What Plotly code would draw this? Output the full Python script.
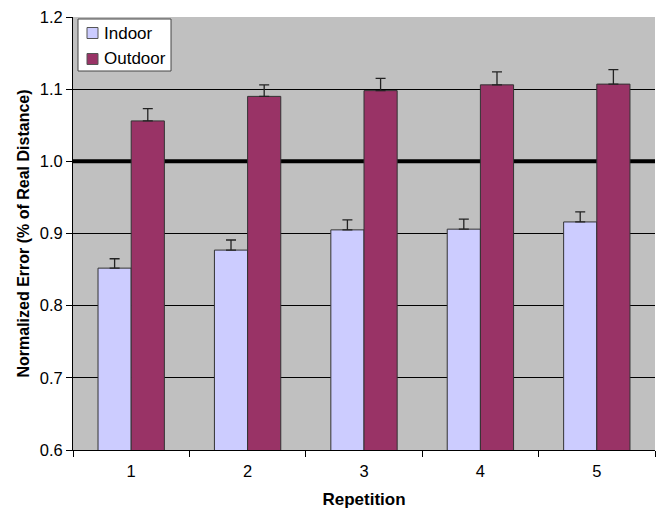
import plotly.graph_objects as go

categories = ["1", "2", "3", "4", "5"]
series_names = ["Indoor", "Outdoor"]
series_colors = ["#CCCCFF", "#993366"]
indoor = [0.852, 0.877, 0.905, 0.906, 0.916]
outdoor = [1.056, 1.090, 1.098, 1.106, 1.107]
indoor_err = [0.013, 0.014, 0.014, 0.014, 0.014]
outdoor_err = [0.017, 0.016, 0.017, 0.018, 0.020]
reference_level = 1.0
y_ticks = [0.6, 0.7, 0.8, 0.9, 1.0, 1.1, 1.2]

FONT = "Liberation Sans, Arial, sans-serif"

fig = go.Figure()
for name, color, vals, err in zip(series_names, series_colors, [indoor, outdoor], [indoor_err, outdoor_err]):
    fig.add_trace(go.Bar(
        name=name, x=categories, y=vals,
        marker=dict(color=color, line=dict(color="#333333", width=1)),
        error_y=dict(type="data", array=err, symmetric=False, arrayminus=[0] * len(err),
                     color="#222222", thickness=1.3, width=5),
        showlegend=False,
    ))

fig.add_shape(type="line", xref="paper", yref="y", x0=0, x1=1,
              y0=reference_level, y1=reference_level,
              line=dict(color="black", width=4), layer="below")

# legend box (plot area: x 73..655 px, y 17..450 px)
PL, PW, PT, PH = 73, 582, 17, 433
px = lambda v: (v - PL) / PW
py = lambda v: (PT + PH - v) / PH

fig.add_shape(type="rect", xref="paper", yref="paper",
              x0=px(78), x1=px(171), y0=py(71), y1=py(19),
              fillcolor="white", line=dict(color="#444444", width=1), layer="above")
for i, (name, color) in enumerate(zip(series_names, series_colors)):
    cy = 33 + 26 * i
    fig.add_shape(type="rect", xref="paper", yref="paper",
                  x0=px(87), x1=px(98), y0=py(cy + 5.5), y1=py(cy - 5.5),
                  fillcolor=color, line=dict(color="#555555", width=1), layer="above")
    fig.add_annotation(xref="paper", yref="paper", x=px(102), y=py(cy),
                       xanchor="left", yanchor="middle", text=name, showarrow=False,
                       font=dict(family=FONT, size=17, color="black"))

fig.update_layout(
    width=656, height=510,
    margin=dict(l=73, r=1, t=17, b=60),
    paper_bgcolor="white",
    plot_bgcolor="#C0C0C0",
    barmode="group",
    bargap=0.43,
    bargroupgap=0,
    font=dict(family=FONT, size=16.5, color="black"),
    showlegend=False,
    xaxis=dict(
        type="category", automargin=False,
        showline=True, linecolor="black", linewidth=1,
        ticks="outside", ticklen=6, tickcolor="black", tickson="boundaries",
        ticklabelstandoff=6,
        showgrid=False,
        title=dict(text="<b>Repetition</b>", font=dict(family=FONT, size=17), standoff=14),
        tickfont=dict(family=FONT, size=16.5),
    ),
    yaxis=dict(
        range=[0.6, 1.2], automargin=False,
        tickvals=y_ticks,
        tickformat=".1f",
        showline=True, linecolor="black", linewidth=1,
        ticks="outside", ticklen=6, tickcolor="black",
        showgrid=True, gridcolor="black", gridwidth=1,
        zeroline=False,
        title=dict(text="<b>Normalized Error (% of Real Distance)</b>",
                   font=dict(family=FONT, size=16), standoff=6),
        tickfont=dict(family=FONT, size=16.5),
    ),
)

fig.write_html("out.html", config={"displayModeBar": False},
               post_script="document.body.style.margin='0';document.body.style.padding='0';")
